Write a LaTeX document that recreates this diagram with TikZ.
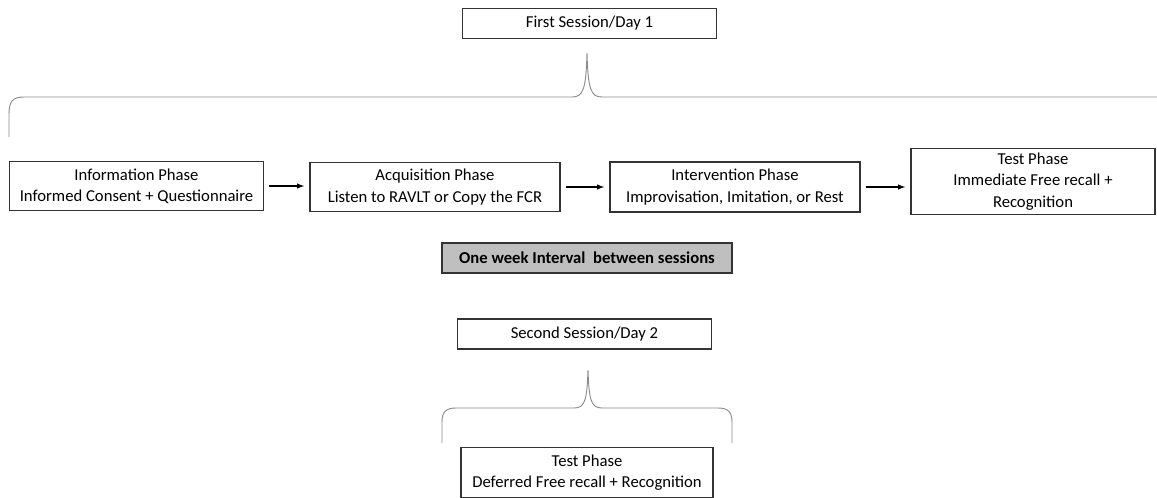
\documentclass[tikz,border=0pt]{standalone}
\usepackage{fontspec}
\setmainfont{Carlito}
\usetikzlibrary{arrows,positioning}

\begin{document}
\begin{tikzpicture}[x=0.75pt,y=-0.75pt,
    phase/.style={draw=black!80, line width=0.8pt, align=center, inner sep=0pt,
        font=\fontsize{12.5}{16}\selectfont},
    brace/.style={draw=black!45, line width=0.7pt},
    arr/.style={->, >=latex, line width=0.8pt, shorten <=4pt, shorten >=4pt}]
    \useasboundingbox (0,0) rectangle (1157,498);

    % sessions and interval
    \node (day1) at (589.5,23.5) [phase, minimum width=190pt, minimum height=22pt] {First Session/Day 1};
    \node (gap) at (587,258) [phase, fill=black!25, minimum width=217.5pt, minimum height=22.5pt,
        font=\fontsize{12.5}{16}\selectfont\bfseries] {One week Interval\ \ between sessions};
    \node (day2) at (584.5,334) [phase, minimum width=190pt, minimum height=22.5pt] {Second Session/Day 2};

    % first session phases
    \node (info) at (136.5,186) [phase, minimum width=190pt, minimum height=37pt] {Information Phase\\Informed Consent + Questionnaire};
    \node (acq) at (435,187) [phase, minimum width=187.5pt, minimum height=37pt] {Acquisition Phase\\Listen to RAVLT or Copy the FCR};
    \node (interv) at (735,187) [phase, minimum width=187.5pt, minimum height=37.5pt] {Intervention Phase\\Improvisation, Imitation, or Rest};
    \node (test1) at (1033,181.5) [phase, minimum width=183pt, minimum height=50pt] {Test Phase\\Immediate Free recall +\\Recognition};

    % second session phase
    \node (test2) at (587,472.5) [phase, minimum width=189pt, minimum height=37pt] {Test Phase\\Deferred Free recall + Recognition};

    \draw[arr] (info.east) -- (info.east -| acq.west);
    \draw[arr] (acq.east) -- (acq.east -| interv.west);
    \draw[arr] (interv.east) -- (interv.east -| test1.west);

    % braces
    \draw[brace] (9,137) -- (9,114) .. controls (9,101) and (13,97) .. (24,97) -- (572,97)
        .. controls (583,97) and (586,90) .. (587,53)
        .. controls (588,90) and (591,97) .. (602,97) -- (1165,97)
        .. controls (1176,97) and (1180,101) .. (1180,114) -- (1180,137);
    \draw[brace] (442,443) -- (442,422) .. controls (442,412) and (446,408) .. (456,408) -- (574,408)
        .. controls (585,408) and (587,400) .. (588,370)
        .. controls (589,400) and (591,408) .. (602,408) -- (718,408)
        .. controls (728,408) and (732,412) .. (732,422) -- (732,443);
\end{tikzpicture}
\end{document}
